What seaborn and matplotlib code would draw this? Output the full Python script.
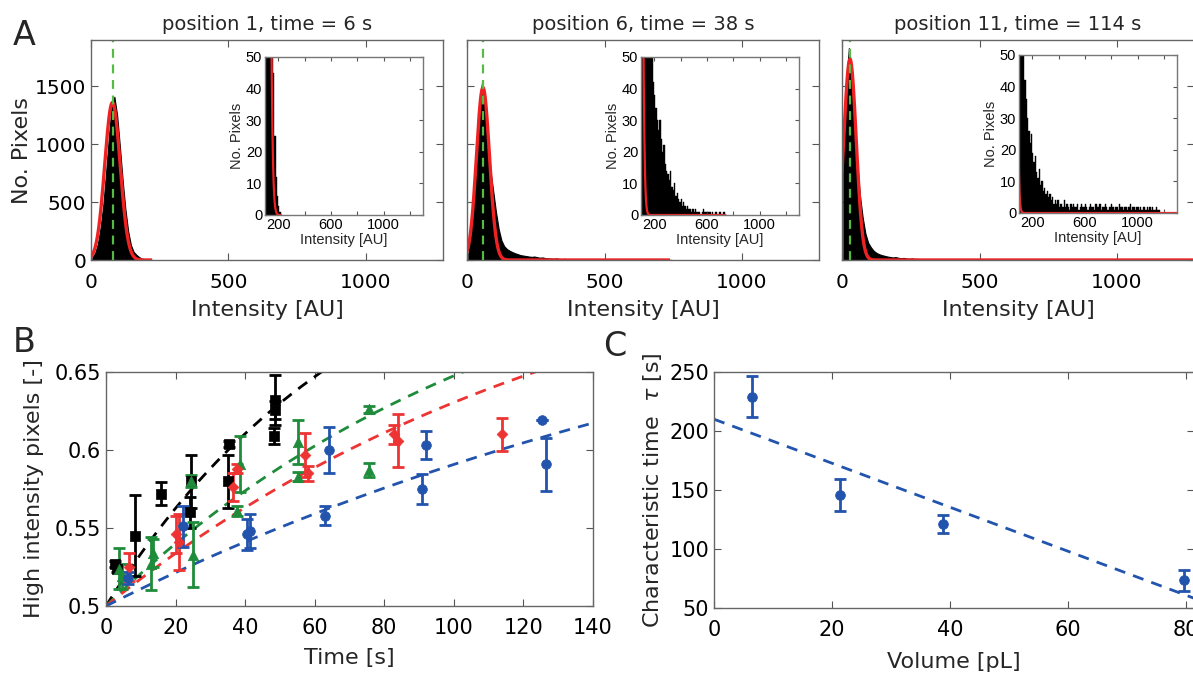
import numpy as np
import pandas as pd
import matplotlib
matplotlib.use("Agg")
import matplotlib.pyplot as plt
import seaborn as sns

# ---------------- DATA ----------------
# Panel A: histogram bar heights (10 AU wide bins starting at 0)
hist_pos1 = [20, 60, 140, 280, 480, 760, 1060, 1330, 1410, 1250, 980, 690, 440, 250,
             130, 70, 45, 25, 12, 6, 3, 1, 0]
hist_pos6 = [60, 200, 480, 900, 1350, 1540, 1380, 1060, 780, 600, 420, 270, 170, 120,
             95, 80, 68, 58, 50, 42, 38, 34, 30, 27, 30, 24, 20, 22, 16, 14,
             13, 11, 14, 9, 8, 10, 6, 7, 5, 4, 5, 3, 4, 3, 2, 3, 2, 2, 1, 2,
             1, 2, 1, 1, 1, 0, 1, 2, 1, 1, 0, 1, 1, 0, 1, 0, 1, 1, 0, 1,
             1, 0, 1, 1, 0]
hist_pos11 = [950, 1500, 1830, 1650, 1250, 850, 560, 370, 230, 150, 110, 80, 62, 50,
              42, 36, 30, 26, 22, 25, 19, 16, 18, 13, 11, 14, 9, 10, 7, 8,
              6, 7, 5, 6, 4, 5, 3, 4, 3, 4, 2, 3, 3, 2, 4, 2, 3, 2, 1, 3,
              2, 3, 2, 2, 3, 1, 2, 3, 2, 2, 3, 2, 1, 2, 3, 2, 2, 1, 3, 2,
              2, 3, 1, 2, 2, 3, 2, 1, 2, 2, 3, 2, 1, 2, 2, 1, 3, 2, 2, 1,
              2, 2, 1, 2, 3, 1, 2, 2, 1, 2, 2, 1, 2, 1, 2, 2, 1, 2, 1, 2,
              1, 2, 1, 1, 2, 1, 1, 0]
hist_titles = ["position 1, time = 6 s", "position 6, time = 38 s", "position 11, time = 114 s"]
# Gaussian fit parameters (amplitude, mean, sigma, x extent) and peak position
fit_amp = [1360, 1489, 1734]
fit_mu = [78, 58, 29]
fit_sigma = [28, 23.6, 22.5]
fit_xmax = [222, 738, 1300]
peak_pos = [81, 57, 28]

# Panel B: high intensity pixel fraction vs time
black_t = [2.5, 3.3, 8.3, 15.8, 24.2, 24.5, 35.0, 35.5, 48.3, 48.5, 48.6]
black_y = [0.527, 0.524, 0.545, 0.572, 0.560, 0.580, 0.580, 0.604, 0.609, 0.6256, 0.632]
black_e = [0.002, 0.002, 0.026, 0.0075, 0.010, 0.017, 0.017, 0.002, 0.005, 0.006, 0.016]
red_t = [6.5, 20.0, 21.0, 36.6, 37.6, 57.2, 58.0, 82.8, 83.8, 113.7]
red_y = [0.525, 0.546, 0.541, 0.576, 0.588, 0.597, 0.585, 0.610, 0.606, 0.610]
red_e = [0.009, 0.012, 0.018, 0.009, 0.003, 0.014, 0.005, 0.006, 0.017, 0.0105]
green_t = [3.8, 4.5, 12.8, 13.5, 24.3, 25.0, 37.6, 38.5, 55.1, 55.3, 75.6, 75.6]
green_y = [0.524, 0.519, 0.527, 0.534, 0.580, 0.533, 0.561, 0.591, 0.583, 0.605, 0.626, 0.587]
green_e = [0.013, 0.008, 0.017, 0.009, 0.004, 0.021, 0.003, 0.018, 0.003, 0.014, 0.002, 0.0045]
blue_t = [6.3, 22.2, 40.5, 41.5, 63.0, 64.1, 90.9, 91.9, 125.2, 126.4]
blue_y = [0.518, 0.551, 0.546, 0.548, 0.558, 0.600, 0.575, 0.603, 0.619, 0.591]
blue_e = [0.004, 0.013, 0.010, 0.011, 0.006, 0.015, 0.0096, 0.009, 0.0, 0.017]
# exponential fits: y = 0.5 + amp * (1 - exp(-t / tau))
fitB_tau = [74, 121, 145, 229]           # black, green, red, blue
fitB_amp = [0.2646, 0.2624, 0.2619, 0.2565]

# Panel C: characteristic time vs volume
vol = [6.4, 21.4, 38.8, 79.7]
tau = [229, 145.5, 121, 73.5]
tau_err = [17.5, 13.5, 7.7, 8.7]
fitC_intercept = 210
fitC_slope = -1.864

# ---------------- STYLE ----------------
sns.set_style("ticks")
plt.rcParams.update({
    "font.family": ["DejaVu Sans"],
    "xtick.direction": "in", "ytick.direction": "in",
    "xtick.top": True, "ytick.right": True,
    "xtick.major.size": 5, "ytick.major.size": 5,
    "xtick.color": "#555555", "ytick.color": "#555555",
    "xtick.labelcolor": "black", "ytick.labelcolor": "black",
    "axes.edgecolor": "#666666", "axes.linewidth": 1.0,
})

W, H = 1193, 675
fig = plt.figure(figsize=(W / 100, H / 100), dpi=100)


def box(l, t, r, b):
    return [l / W, 1 - b / H, (r - l) / W, (b - t) / H]


RED = "#ee2222"
GREEN_LINE = "#55bb44"
INSET_FONT = ["Liberation Sans", "DejaVu Sans"]

hists = [hist_pos1, hist_pos6, hist_pos11]
main_left = [91, 467, 842]
inset_left = [265, 641, 1019]
for i in range(3):
    counts = np.array(hists[i], dtype=float)
    nb = len(counts)
    df = pd.DataFrame({"intensity": np.arange(nb) * 10.0 + 5, "count": counts})
    xs = np.linspace(0, fit_xmax[i], 800)
    fy = fit_amp[i] * np.exp(-(xs - fit_mu[i]) ** 2 / (2 * fit_sigma[i] ** 2))

    ax = fig.add_axes(box(main_left[i], 40, main_left[i] + 352, 260))
    sns.histplot(data=df, x="intensity", weights="count", binwidth=10,
                 binrange=(0, nb * 10), element="poly", fill=True,
                 color="black", alpha=1, linewidth=0.8, edgecolor="black", ax=ax)
    ax.plot(xs, fy, color=RED, lw=2.4, solid_capstyle="butt")
    ax.axvline(peak_pos[i], color=GREEN_LINE, ls=(0, (4, 3)), lw=1.6)
    ax.set_xlim(0, 1280)
    ax.set_ylim(0, 1900)
    ax.set_xticks([0, 500, 1000])
    ax.set_yticks([0, 500, 1000, 1500])
    ax.tick_params(labelsize=14.5)
    ax.tick_params(axis="x", pad=9)
    if i == 0:
        ax.set_ylabel("No. Pixels", fontsize=16, labelpad=2)
    else:
        ax.set_ylabel("")
        ax.set_yticklabels([])
    ax.set_xlabel("Intensity [AU]", fontsize=16, labelpad=6)
    ax.set_title(hist_titles[i], fontsize=14, pad=7)

    top = 57 if i < 2 else 55
    axi = fig.add_axes(box(inset_left[i], top, inset_left[i] + 158, top + 158))
    sns.histplot(data=df, x="intensity", weights="count", binwidth=10,
                 binrange=(0, nb * 10), element="bars", fill=True,
                 color="black", alpha=1, linewidth=0.3, edgecolor="black", ax=axi)
    axi.plot(xs, fy, color=RED, lw=1.6)
    axi.set_xlim(100, 1300)
    axi.set_ylim(0, 50)
    axi.set_xticks([200, 400, 600, 800, 1000, 1200])
    axi.set_xticklabels(["200", "", "600", "", "1000", ""])
    axi.set_yticks([0, 10, 20, 30, 40, 50])
    axi.tick_params(labelsize=10.5, length=3, pad=2)
    for lab in axi.get_xticklabels() + axi.get_yticklabels():
        lab.set_family(INSET_FONT)
    axi.set_ylabel("No. Pixels", fontsize=10.5, family=INSET_FONT, labelpad=1)
    axi.set_xlabel("Intensity [AU]", fontsize=10.5, family=INSET_FONT, labelpad=1)
    for sp in axi.spines.values():
        sp.set_color("#777777")

# ---------------- PANEL B ----------------
axB = fig.add_axes(box(106, 372, 593, 606))
series = [
    (black_t, black_y, black_e, "black", "s", 6.5),
    (green_t, green_y, green_e, "#1f8c3b", "^", 7.5),
    (red_t, red_y, red_e, "#ee3333", "D", 5.5),
    (blue_t, blue_y, blue_e, "#2254ad", "o", 7),
]
tline = np.linspace(0, 140, 400)
for k, (t, y, e, c, m, ms) in enumerate(series):
    yfit = 0.5 + fitB_amp[k] * (1 - np.exp(-tline / fitB_tau[k]))
    axB.plot(tline, yfit, color=c, ls=(0, (4, 3)), lw=2.0)
for k, (t, y, e, c, m, ms) in enumerate(series):
    axB.errorbar(t, y, yerr=e, fmt="none", ecolor=c, elinewidth=2, capsize=4, capthick=2)
    sns.scatterplot(x=t, y=y, color=c, marker=m, s=ms ** 2, edgecolor=c, linewidth=0.5,
                    ax=axB, zorder=5)
axB.set_xlim(0, 140)
axB.set_ylim(0.5, 0.65)
axB.set_xticks(np.arange(0, 141, 20))
axB.set_yticks([0.5, 0.55, 0.6, 0.65])
axB.set_yticklabels(["0.5", "0.55", "0.6", "0.65"])
axB.tick_params(labelsize=15)
axB.tick_params(axis="x", pad=9)
axB.set_xlabel("Time [s]", fontsize=16, labelpad=7)
axB.set_ylabel("High intensity pixels [-]", fontsize=16, labelpad=8)

# ---------------- PANEL C ----------------
axC = fig.add_axes(box(714, 372, 1194, 608))
vline = np.linspace(0, 81.4, 100)
axC.plot(vline, fitC_intercept + fitC_slope * vline, color="#2254ad", ls=(0, (4, 3)), lw=2.0)
axC.errorbar(vol, tau, yerr=tau_err, fmt="none", ecolor="#2254ad", elinewidth=2,
             capsize=4, capthick=2)
sns.scatterplot(x=vol, y=tau, color="#2254ad", marker="o", s=49, edgecolor="#2254ad",
                ax=axC, zorder=5)
axC.set_xlim(0, 81.4)
axC.set_ylim(50, 250)
axC.set_xticks([0, 20, 40, 60, 80])
axC.set_yticks([50, 100, 150, 200, 250])
axC.tick_params(labelsize=15)
axC.tick_params(axis="x", pad=9)
axC.set_xlabel("Volume [pL]", fontsize=16, labelpad=8)
axC.set_ylabel(r"Characteristic time  $\tau$ [s]", fontsize=16, labelpad=4)

# panel letters
fig.text(13 / W, 1 - 45 / H, "A", fontsize=24, va="baseline")
fig.text(13 / W, 1 - 352 / H, "B", fontsize=24, va="baseline")
fig.text(603 / W, 1 - 356 / H, "C", fontsize=24, va="baseline")

fig.savefig("out.png", dpi=100)
